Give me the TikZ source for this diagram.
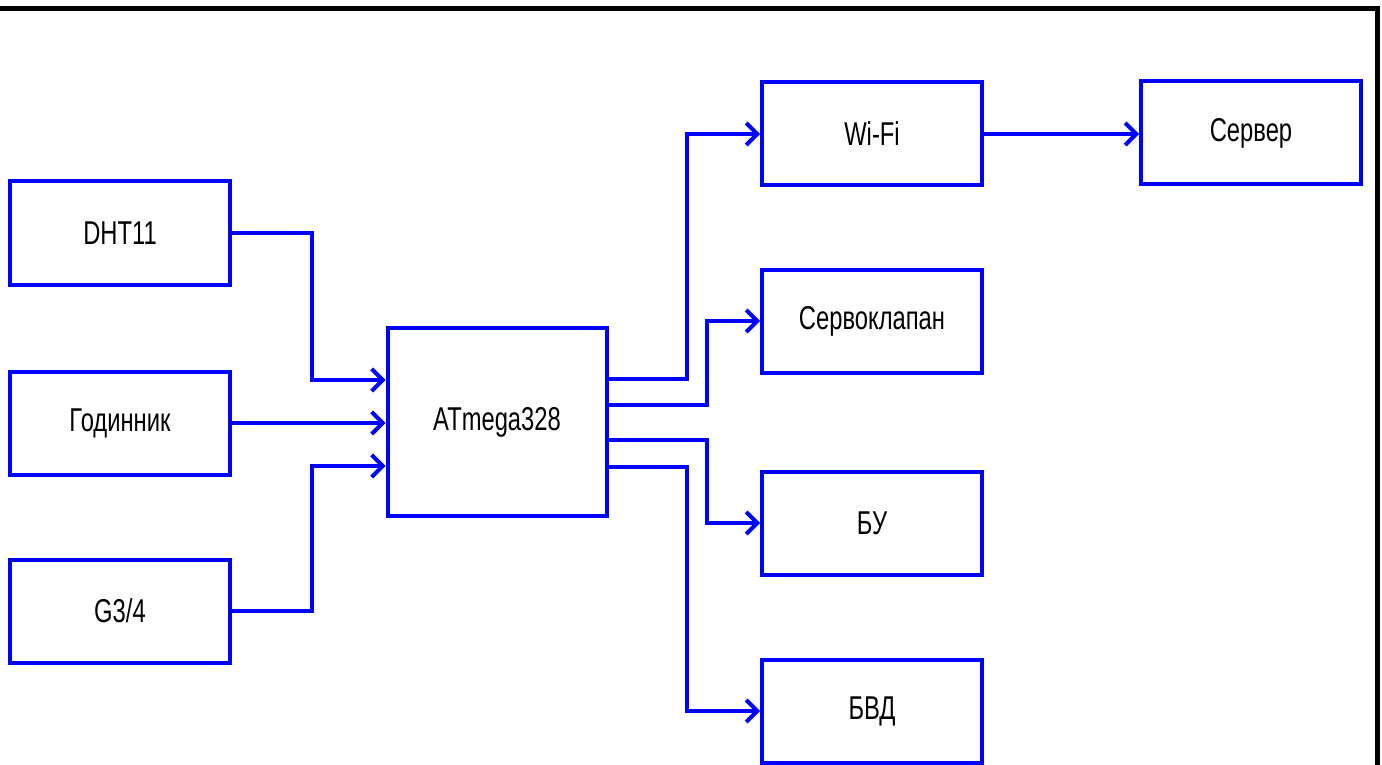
\documentclass[tikz,border=0pt]{standalone}
\usepackage{fontspec}
\setmainfont{Liberation Sans}[FakeStretch=0.72]
\usepackage{tikz}
\usetikzlibrary{arrows.meta,positioning,calc}
\tikzset{
  block/.style={rectangle, draw=blue, line width=2pt, inner sep=0pt,
                minimum width=110pt, minimum height=51.5pt,
                font=\fontsize{16.5}{19}\selectfont},
  link/.style={draw=blue, line width=2pt,
               -{Straight Barb[length=5.5pt,width=11pt]}},
  frame/.style={draw=black, line width=2.5pt},
}
\begin{document}
\begin{tikzpicture}[x=0.5pt,y=-0.5pt]
  \useasboundingbox (0,0) rectangle (1382,765);
  \draw[frame] (0,9) -- (1377,9) -- (1377,765);
  % sensors
  \node[block] (dht)   at (120,233) {DHT11};
  \node[block] (clock) at (120,423) {Годинник};
  \node[block] (g34)   at (120,611) {G3/4};
  % controller
  \node[block, minimum width=109.5pt, minimum height=94pt] (mcu) at (497,422) {ATmega328};
  % outputs
  \node[block] (wifi)  at (872,134) {Wi-Fi};
  \node[block] (valve) at (872,321) {Сервоклапан};
  \node[block] (bu)    at (872,523) {БУ};
  \node[block] (bvd)   at (872,711) {БВД};
  \node[block] (srv)   at (1251,133) {Сервер};
  % inputs
  \draw[link] (dht.east) -- ++(80,0) |- ([yshift=21pt]mcu.west);
  \draw[link] (clock.east) -- (clock.east -| mcu.west);
  \draw[link] (g34.east) -- ++(80,0) |- ([yshift=-22pt]mcu.west);
  % output lines
  \draw[link] ([yshift=21.5pt]mcu.east) -- ++(78,0) |- (wifi.west);
  \draw[link] ([yshift=8.5pt]mcu.east) -- ++(98,0) |- (valve.west);
  \draw[link] ([yshift=-9pt]mcu.east) -- ++(98,0) |- (bu.west);
  \draw[link] ([yshift=-22.5pt]mcu.east) -- ++(78,0) |- (bvd.west);
  \draw[link] (wifi.east) -- (wifi.east -| srv.west);
\end{tikzpicture}
\end{document}
